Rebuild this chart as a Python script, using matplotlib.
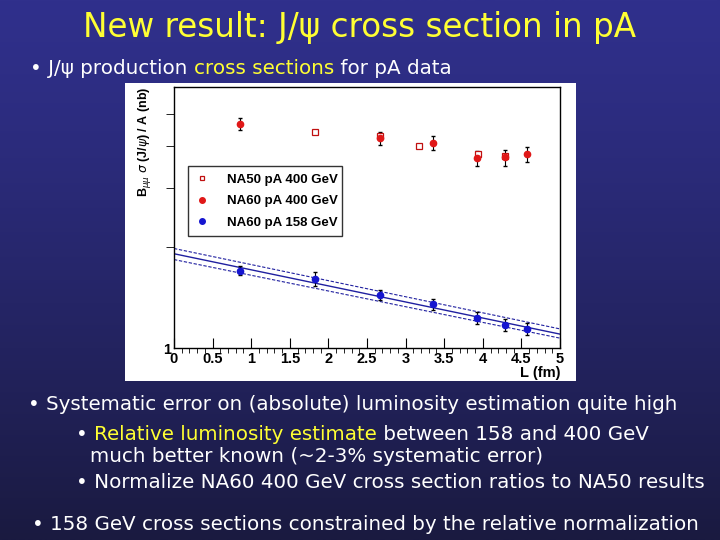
import numpy as np
import matplotlib
matplotlib.use("Agg")
import matplotlib.pyplot as plt
from matplotlib.patches import Rectangle
from matplotlib.lines import Line2D

# data (L in fm, B_mumu sigma / A in nb)
na50_L = [1.83, 2.67, 3.17, 3.94, 4.29]
na50_sig = [4.42, 4.28, 4.00, 3.80, 3.74]
na50_err = [0.05, 0.05, 0.05, 0.05, 0.05]

na60_400_L = [0.86, 2.67, 3.36, 3.93, 4.29, 4.57]
na60_400_sig = [4.67, 4.22, 4.09, 3.68, 3.70, 3.78]
na60_400_err = [0.19, 0.18, 0.19, 0.18, 0.20, 0.19]

na60_158_L = [0.86, 1.83, 2.67, 3.36, 3.93, 4.29, 4.57]
na60_158_sig = [1.70, 1.61, 1.44, 1.35, 1.23, 1.17, 1.14]
na60_158_err = [0.05, 0.08, 0.05, 0.05, 0.05, 0.05, 0.05]

# exponential fit (straight on log axis), ends at L=0 and L=5
fit_L = [0, 5]
fit_central = [1.91, 1.10]
fit_upper = [1.98, 1.14]
fit_lower = [1.835, 1.07]

legend_labels = ["NA50 pA 400 GeV", "NA60 pA 400 GeV", "NA60 pA 158 GeV"]

W, H = 720, 540
fig = plt.figure(figsize=(7.2, 5.4), dpi=100)

# slide background gradient
bg = fig.add_axes([0, 0, 1, 1])
grad = np.linspace(0, 1, 256).reshape(-1, 1)
top = np.array([48, 48, 140]) / 255
bot = np.array([26, 26, 64]) / 255
img = top + (bot - top) * grad[..., None] ** 1.2
bg.imshow(img.reshape(256, 1, 3), aspect="auto", extent=[0, 1, 0, 1])
bg.set_axis_off()


def px(x0, y0, x1, y1):
    return [x0 / W, 1 - y1 / H, (x1 - x0) / W, (y1 - y0) / H]


# white picture panel
fig.patches.append(Rectangle((125 / W, 1 - 381 / H), (576 - 125) / W, (381 - 83) / H,
                             transform=fig.transFigure, facecolor="white", edgecolor="none", zorder=1))

yellow = "#ffff33"
fig.text(0.5, 1 - 27 / H, "New result: J/\u03c8 cross section in pA", color=yellow,
         fontsize=23.5, ha="center", va="center", family="DejaVu Sans")

fig.canvas.draw()
r = fig.canvas.get_renderer()


def seq_text(x, y, parts, fs=14.3):
    # text pieces in different colours placed one after another
    xx = x / W
    for s, c in parts:
        tt = fig.text(xx, 1 - y / H, s, color=c, fontsize=fs, va="center", family="DejaVu Sans")
        xx += tt.get_window_extent(renderer=r).width / W


seq_text(30, 68, [("\u2022 J/\u03c8 production ", "white"), ("cross sections", yellow),
                  (" for pA data", "white")])
seq_text(28, 405, [("\u2022 Systematic error on (absolute) luminosity estimation quite high", "white")])
seq_text(76, 435, [("\u2022 ", "white"), ("Relative luminosity estimate", yellow),
                   (" between 158 and 400 GeV", "white")])
seq_text(90, 457, [("much better known (~2-3% systematic error)", "white")])
seq_text(76, 482, [("\u2022 Normalize NA60 400 GeV cross section ratios to NA50 results", "white")])
seq_text(32, 524, [("\u2022 158 GeV cross sections constrained by the relative normalization", "white")])

# the chart
ax = fig.add_axes(px(174, 87, 560, 348))
ax.set_zorder(2)
ax.set_yscale("log")
ax.set_xlim(0, 5)
ax.set_ylim(1, 6.0)

blue_line = "#2020a0"
ax.plot(fit_L, fit_central, color=blue_line, lw=1.0)
ax.plot(fit_L, fit_upper, color=blue_line, lw=0.8, ls=(0, (3, 1.5)))
ax.plot(fit_L, fit_lower, color=blue_line, lw=0.8, ls=(0, (3, 1.5)))

red = "#e01818"
blue = "#1515d0"
ax.errorbar(na50_L, na50_sig, yerr=na50_err, fmt="s", ms=4, mfc="white", mec="#c01010",
            mew=0.9, ecolor="black", elinewidth=0.8, capsize=1.5)
ax.errorbar(na60_400_L, na60_400_sig, yerr=na60_400_err, fmt="o", ms=4.5, color=red,
            ecolor="black", elinewidth=0.8, capsize=1.5)
ax.errorbar(na60_158_L, na60_158_sig, yerr=na60_158_err, fmt="o", ms=4.5, color=blue,
            ecolor="black", elinewidth=0.8, capsize=1.5)

ax.set_xticks(np.arange(0, 5.01, 0.5))
ax.set_xticklabels(["0", "0.5", "1", "1.5", "2", "2.5", "3", "3.5", "4", "4.5", "5"])
ax.set_xticks(np.arange(0, 5.01, 0.1), minor=True)
ax.set_yticks([1])
ax.set_yticklabels(["1"])
ax.set_yticks([2, 3, 4, 5], minor=True)
ax.yaxis.set_minor_formatter(matplotlib.ticker.NullFormatter())
ax.tick_params(axis="both", direction="in", labelsize=10.5, width=0.8)
ax.tick_params(axis="x", which="major", length=7, pad=3)
ax.tick_params(axis="x", which="minor", length=3.5)
ax.tick_params(axis="y", which="minor", length=6)
ax.tick_params(axis="y", which="major", length=0, pad=2)
for lab in ax.get_xticklabels() + ax.get_yticklabels():
    lab.set_fontweight("bold")
    lab.set_family("Liberation Sans")
for sp in ax.spines.values():
    sp.set_linewidth(1.0)

ax.set_xlabel("L (fm)", fontsize=10.5, fontweight="bold", family="Liberation Sans", loc="right", labelpad=0)
ax.set_ylabel(r"B$_{\mu\mu}$ $\sigma$ (J/$\psi$) / A (nb)", fontsize=9, fontweight="bold",
              family="Liberation Sans", loc="top", labelpad=6)

handles = [
    Line2D([], [], ls="none", marker="s", ms=3.5, mfc="white", mec="#c01010", mew=0.9),
    Line2D([], [], ls="none", marker="o", ms=4, color=red),
    Line2D([], [], ls="none", marker="o", ms=4, color=blue),
]
leg = ax.legend(handles, legend_labels, loc="upper left", bbox_to_anchor=(0.036, 0.697, 0.40, 0.0),
                mode="expand", frameon=True, fancybox=False, edgecolor="black",
                prop={"family": "Liberation Sans", "weight": "bold", "size": 9.5},
                handlelength=1.0, handletextpad=1.4, borderpad=0.55, labelspacing=0.72,
                borderaxespad=0)
leg.get_frame().set_linewidth(1.0)

fig.savefig("out.png", dpi=100)
